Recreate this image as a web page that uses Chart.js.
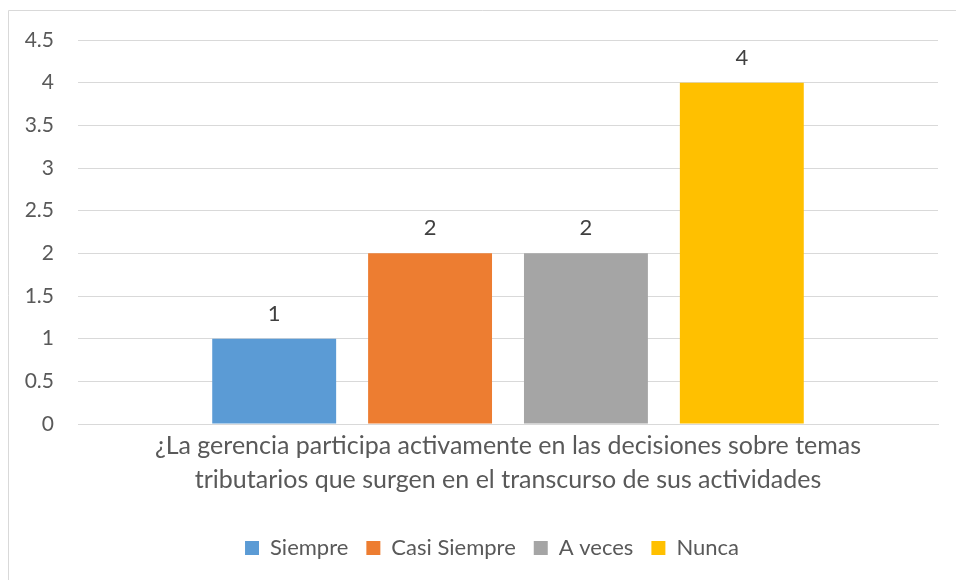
<!DOCTYPE html>
<html>
<head>
<meta charset="utf-8">
<script src="https://cdn.jsdelivr.net/npm/chart.js@4"></script>
<style>
  body { margin: 0; background: #fff; }
  #wrap { width: 956px; height: 580px; position: relative; }
</style>
</head>
<body>
<div id="wrap"><canvas id="chart" width="956" height="580"></canvas></div>
<script>
const category = ["¿La gerencia participa activamente en las decisiones sobre temas", "tributarios que surgen en el transcurso de sus actividades"];
const seriesNames = ["Siempre", "Casi Siempre", "A veces", "Nunca"];
const seriesValues = [1, 2, 2, 4];
const seriesColors = ["#5b9bd5", "#ed7d31", "#a5a5a5", "#ffc000"];
const fontFamily = "Lato, 'Open Sans', sans-serif";

// outer chart border (only top and left edges show in the original)
const frame = {
    id: "frame",
    beforeDraw(chart) {
        // center the legend under the plot area rather than the whole canvas
        chart.legend.left = 46;
    },
    afterDraw(chart) {
        const ctx = chart.ctx;
        ctx.save();
        ctx.strokeStyle = "#d9d9d9";
        ctx.lineWidth = 1;
        ctx.beginPath();
        ctx.moveTo(8.5, 580);
        ctx.lineTo(8.5, 10.5);
        ctx.lineTo(956, 10.5);
        ctx.stroke();
        ctx.restore();
    }
};

const valueLabels = {
    id: "valueLabels",
    afterDatasetsDraw(chart) {
        const ctx = chart.ctx;
        ctx.save();
        ctx.fillStyle = "#404040";
        ctx.font = "22px " + fontFamily;
        ctx.textAlign = "center";
        ctx.textBaseline = "middle";
        chart.data.datasets.forEach((ds, i) => {
            chart.getDatasetMeta(i).data.forEach((bar, j) => {
                ctx.fillText(ds.data[j], bar.x, bar.y - 25);
            });
        });
        ctx.restore();
    }
};

new Chart(document.getElementById("chart"), {
    type: "bar",
    data: {
        labels: [category],
        datasets: seriesNames.map((name, i) => ({
            label: name,
            data: [seriesValues[i]],
            backgroundColor: seriesColors[i],
            categoryPercentage: 0.725,
            barPercentage: 0.795
        }))
    },
    options: {
        responsive: false,
        animation: false,
        layout: { padding: { top: 40, right: 18, bottom: 11, left: 0 } },
        plugins: {
            tooltip: { enabled: false },
            legend: {
                position: "bottom",
                labels: {
                    boxWidth: 14,
                    boxHeight: 14,
                    color: "#595959",
                    font: { family: fontFamily, size: 22 },
                    padding: 18
                }
            }
        },
        scales: {
            x: {
                grid: { display: false },
                border: { color: "#d9d9d9" },
                ticks: { color: "#595959", font: { family: fontFamily, size: 25, lineHeight: 1.36 }, padding: -3 },
                afterFit(scale) { scale.height = 95; }
            },
            y: {
                min: 0,
                max: 4.5,
                ticks: {
                    stepSize: 0.5,
                    color: "#595959",
                    font: { family: fontFamily, size: 21 },
                    padding: 24,
                    callback: (v) => String(v)
                },
                grid: { color: "#d9d9d9", drawTicks: false },
                border: { display: false },
                afterFit(scale) { scale.width = 78; }
            }
        }
    },
    plugins: [frame, valueLabels]
});
</script>
</body>
</html>
